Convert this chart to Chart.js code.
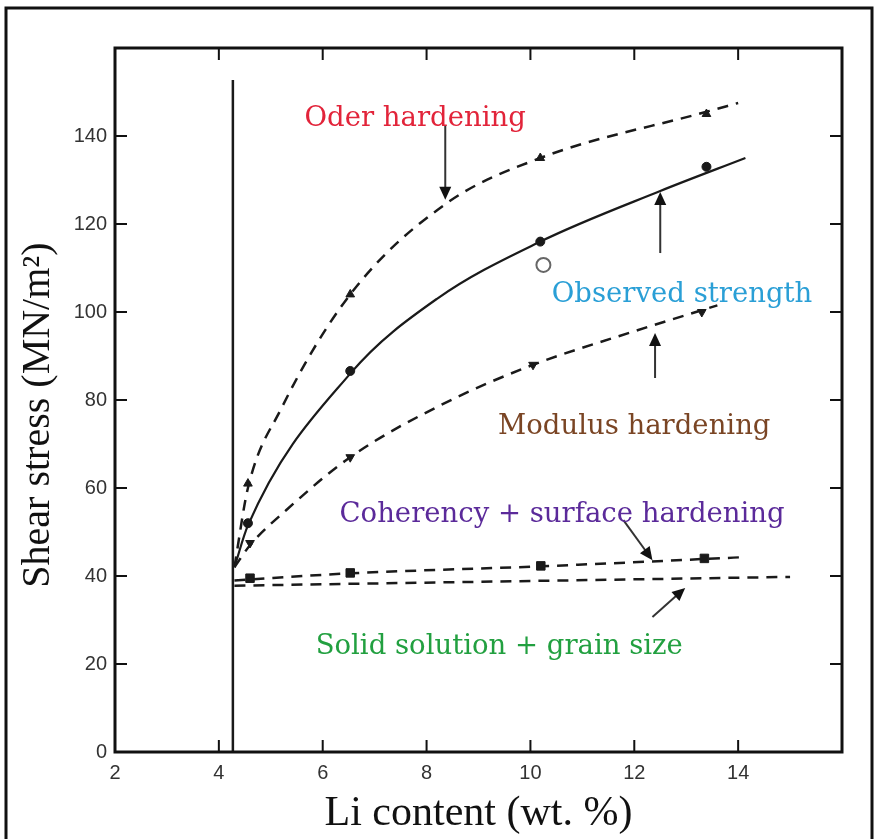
<!DOCTYPE html>
<html>
<head>
<meta charset="utf-8">
<script src="https://cdn.jsdelivr.net/npm/chart.js@4.4.1/dist/chart.umd.min.js"></script>
<style>
  html, body { margin: 0; padding: 0; background: #fff; }
  #wrap { width: 877px; height: 839px; }
</style>
</head>
<body>
<div id="wrap"><canvas id="c" width="877" height="839"></canvas></div>
<script>
// tick values
const xTicks = [2, 4, 6, 8, 10, 12, 14];
const yTicks = [0, 20, 40, 60, 80, 100, 120, 140];

// measured points
const orderPts = [[4.56, 61], [6.53, 104], [10.19, 135], [13.39, 145]];
const observedPts = [[4.56, 52], [6.53, 86.6], [10.19, 116], [13.39, 133]];
const observedOpen = [[10.25, 110.7]];
const modulusPts = [[4.6, 47.5], [6.53, 67], [10.05, 88], [13.3, 100]];
const coherencyPts = [[4.6, 39.5], [6.53, 40.7], [10.2, 42.3], [13.35, 44]];

// fitted curves
const orderCurve = [[4.3, 42], [4.56, 60], [5.2, 78], [6.53, 104], [8.36, 124.5], [10.19, 135], [13.39, 145.5], [14.0, 147.5]];
const observedCurve = [[4.3, 42], [4.56, 51.5], [6.53, 86], [8.2, 103], [10.19, 116], [12.5, 127.5], [14.14, 135]];
const modulusCurve = [[4.3, 42], [4.6, 47], [5.3, 55], [6.53, 67], [8.3, 79], [10.05, 88], [11.7, 94.5], [13.6, 101.5]];
const coherencyCurve = [[4.3, 39], [6.53, 40.6], [10.2, 42.2], [14.14, 44.3]];
const solidCurve = [[4.3, 37.8], [15.0, 39.8]];

// vertical line
const vLineX = 4.27;
const vLineTop = 152.7;

// labels [text, x, y, colour]
const labels = [
  ['Oder hardening', 7.78, 143.8, '#e2243a'],
  ['Observed strength', 12.92, 104, '#2a9fd6'],
  ['Modulus hardening', 12.0, 73.8, '#7a4524'],
  ['Coherency + surface hardening', 10.61, 54, '#5b2a9a'],
  ['Solid solution + grain size', 9.4, 23.8, '#22a040']
];
// arrows [x0, y0, x1, y1] (head at x1, y1)
const arrows = [
  [8.36, 142.5, 8.36, 125.5],
  [12.5, 113.4, 12.5, 127.3],
  [12.4, 85, 12.4, 95.2],
  [11.79, 52.7, 12.35, 43.6],
  [12.35, 30.7, 12.98, 37.3]
];

const toXY = a => a.map(p => ({x: p[0], y: p[1]}));
const ink = '#1a1a1a';

const curve = (data, dash, width) => ({
  data: toXY(data), showLine: true, pointRadius: 0, borderColor: ink,
  borderWidth: width, borderDash: dash, cubicInterpolationMode: 'monotone', fill: false
});
const marks = (data, style, r, rot) => ({
  data: toXY(data), showLine: false, pointStyle: style, pointRadius: r,
  pointRotation: rot || 0, backgroundColor: ink, borderColor: ink, borderWidth: 1
});

const decor = {
  id: 'decor',
  afterDatasetsDraw(chart) {
    const {ctx, chartArea: a, scales: {x, y}} = chart;
    ctx.save();
    // vertical line
    ctx.strokeStyle = ink; ctx.lineWidth = 2.5;
    ctx.beginPath();
    ctx.moveTo(x.getPixelForValue(vLineX), y.getPixelForValue(0));
    ctx.lineTo(x.getPixelForValue(vLineX), y.getPixelForValue(vLineTop));
    ctx.stroke();
    // frame
    ctx.lineWidth = 3; ctx.strokeStyle = '#111';
    ctx.strokeRect(a.left, a.top, a.right - a.left, a.bottom - a.top);
    // inward ticks
    ctx.lineWidth = 2;
    const tl = 12;
    xTicks.slice(1).forEach(v => {
      const px = x.getPixelForValue(v);
      ctx.beginPath();
      ctx.moveTo(px, a.bottom); ctx.lineTo(px, a.bottom - tl);
      ctx.moveTo(px, a.top); ctx.lineTo(px, a.top + tl);
      ctx.stroke();
    });
    yTicks.slice(1).forEach(v => {
      const py = y.getPixelForValue(v);
      ctx.beginPath();
      ctx.moveTo(a.left, py); ctx.lineTo(a.left + tl, py);
      ctx.moveTo(a.right, py); ctx.lineTo(a.right - tl, py);
      ctx.stroke();
    });
    // arrows
    ctx.strokeStyle = '#333'; ctx.fillStyle = '#111'; ctx.lineWidth = 2;
    arrows.forEach(([x0, y0, x1, y1]) => {
      const ax = x.getPixelForValue(x0), ay = y.getPixelForValue(y0);
      const bx = x.getPixelForValue(x1), by = y.getPixelForValue(y1);
      const ang = Math.atan2(by - ay, bx - ax);
      const hl = 13, hw = 6;
      ctx.beginPath();
      ctx.moveTo(ax, ay);
      ctx.lineTo(bx - Math.cos(ang) * hl * 0.8, by - Math.sin(ang) * hl * 0.8);
      ctx.stroke();
      ctx.beginPath();
      ctx.moveTo(bx, by);
      ctx.lineTo(bx - Math.cos(ang) * hl - Math.sin(ang) * hw, by - Math.sin(ang) * hl + Math.cos(ang) * hw);
      ctx.lineTo(bx - Math.cos(ang) * hl + Math.sin(ang) * hw, by - Math.sin(ang) * hl - Math.cos(ang) * hw);
      ctx.closePath();
      ctx.fill();
    });
    // labels
    ctx.font = '27.5px "DejaVu Serif", serif';
    ctx.textAlign = 'center'; ctx.textBaseline = 'middle';
    labels.forEach(([t, lx, ly, col]) => {
      ctx.fillStyle = col;
      ctx.fillText(t, x.getPixelForValue(lx), y.getPixelForValue(ly));
    });
    ctx.restore();
  },
  afterDraw(chart) {
    const {ctx} = chart;
    ctx.save();
    ctx.strokeStyle = '#111'; ctx.lineWidth = 3;
    ctx.strokeRect(6, 8, 866, 840);
    ctx.restore();
  }
};

new Chart(document.getElementById('c'), {
  type: 'scatter',
  data: {
    datasets: [
      curve(orderCurve, [11, 8], 2.5),
      curve(observedCurve, [], 2.2),
      curve(modulusCurve, [11, 8], 2.5),
      curve(coherencyCurve, [11, 8], 2.5),
      curve(solidCurve, [11, 8], 2.5),
      marks(orderPts, 'triangle', 5),
      marks(observedPts, 'circle', 4.5),
      marks(modulusPts, 'triangle', 5, 180),
      marks(coherencyPts, 'rect', 6),
      {data: toXY(observedOpen), showLine: false, pointStyle: 'circle', pointRadius: 7,
       backgroundColor: '#fff', borderColor: '#666', borderWidth: 2}
    ]
  },
  options: {
    responsive: false,
    animation: false,
    layout: {padding: {left: 0, right: 35, top: 48, bottom: 0}},
    plugins: {legend: {display: false}, tooltip: {enabled: false}},
    scales: {
      x: {
        type: 'linear', min: 2, max: 16,
        afterFit: s => { s.height = 87; },
        afterBuildTicks: s => { s.ticks = xTicks.map(v => ({value: v})); },
        grid: {display: false, drawTicks: false},
        border: {display: false},
        ticks: {padding: 9, color: '#333', font: {family: '"Liberation Sans", Arial', size: 20}},
        title: {display: true, text: 'Li content (wt. %)', color: '#111',
          font: {family: '"Liberation Serif", "Times New Roman", serif', size: 42, lineHeight: 1},
          padding: {top: 0, bottom: 4}}
      },
      y: {
        type: 'linear', min: 0, max: 160,
        afterFit: s => { s.width = 115; },
        afterBuildTicks: s => { s.ticks = yTicks.map(v => ({value: v})); },
        grid: {display: false, drawTicks: false},
        border: {display: false},
        ticks: {padding: 8, color: '#333', font: {family: '"Liberation Sans", Arial', size: 20}},
        title: {display: true, text: 'Shear stress (MN/m²)   ', color: '#111',
          font: {family: '"Liberation Serif", "Times New Roman", serif', size: 40, lineHeight: 1},
          padding: {top: 18, bottom: 0}}
      }
    }
  },
  plugins: [decor]
});
</script>
</body>
</html>
